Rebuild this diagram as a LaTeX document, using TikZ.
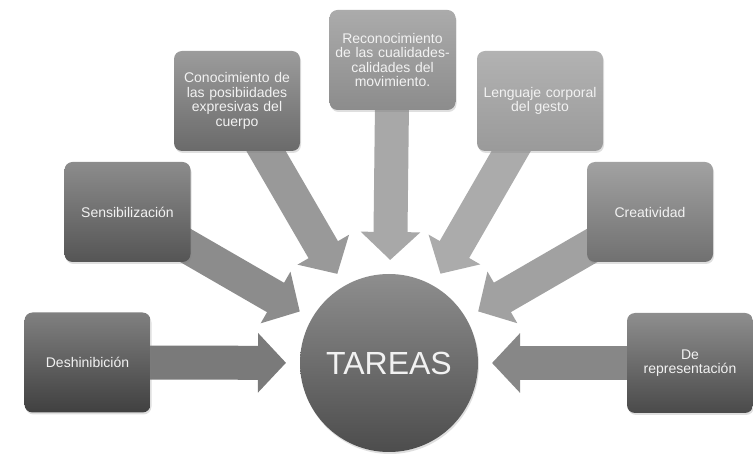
\documentclass[tikz,border=0pt]{standalone}
\usepackage{fontspec}
\setmainfont{Liberation Sans}
\usepackage{xcolor}
\usetikzlibrary{arrows.meta,calc,backgrounds,shadows}

\definecolor{cajaA}{HTML}{808080}
\definecolor{cajaAb}{HTML}{404040}
\definecolor{cajaB}{HTML}{8C8C8C}
\definecolor{cajaBb}{HTML}{555555}
\definecolor{cajaC}{HTML}{9C9C9C}
\definecolor{cajaCb}{HTML}{6A6A6A}
\definecolor{cajaD}{HTML}{ABABAB}
\definecolor{cajaDb}{HTML}{8C8C8C}
\definecolor{cajaE}{HTML}{B2B2B2}
\definecolor{cajaEb}{HTML}{9A9A9A}
\definecolor{cajaF}{HTML}{A2A2A2}
\definecolor{cajaFb}{HTML}{707070}
\definecolor{cajaG}{HTML}{8E8E8E}
\definecolor{cajaGb}{HTML}{4A4A4A}

\begin{document}
\begin{tikzpicture}[x=1pt,y=-1pt,
    tarea/.style 2 args={rounded corners=8pt,minimum width=126pt,minimum height=100pt,
        inner sep=2pt,text width=120pt,align=center,text=white!95!black,
        font=\fontsize{14}{14.5}\selectfont,top color=#1,bottom color=#2,
        drop shadow={opacity=0.25,shadow xshift=1pt,shadow yshift=-2pt}},
    flecha/.style={draw=#1,line width=34pt,-{Triangle[width=58pt,length=28pt]}}]
    \useasboundingbox (0,0) rectangle (753,454);

    \node[circle,minimum size=178pt,top color=cajaG,bottom color=black!70,
        text=white!95!black,font=\fontsize{32}{34}\selectfont,
        drop shadow={opacity=0.25,shadow xshift=1pt,shadow yshift=-2pt}] (tareas) at (389,363) {TAREAS};

    \node[tarea={cajaA}{cajaAb}] (deshin) at (87.5,362.5) {Deshinibición};
    \node[tarea={cajaB}{cajaBb}] (sensib) at (127.5,212) {Sensibilización};
    \node[tarea={cajaC}{cajaCb}] (conoc) at (237,101) {Conocimiento de\\las posibiidades\\expresivas del\\cuerpo};
    \node[tarea={cajaD}{cajaDb}] (recon) at (392.5,60) {Reconocimiento\\de las cualidades-\\calidades del\\movimiento.};
    \node[tarea={cajaE}{cajaEb}] (lengu) at (540,101) {Lenguaje corporal\\del gesto};
    \node[tarea={cajaF}{cajaFb}] (creat) at (650,212) {Creatividad};
    \node[tarea={cajaG}{cajaGb}] (repres) at (690,363) {De\\representación};

    \begin{pgfonlayer}{background}
        \draw[flecha=black!52] (deshin.center) -- ($(tareas.center)!103pt!(deshin.center)$);
        \draw[flecha=black!45] (sensib.center) -- ($(tareas.center)!103pt!(sensib.center)$);
        \draw[flecha=black!40] (conoc.center) -- ($(tareas.center)!103pt!(conoc.center)$);
        \draw[flecha=black!34] (recon.center) -- ($(tareas.center)!103pt!(recon.center)$);
        \draw[flecha=black!33] (lengu.center) -- ($(tareas.center)!103pt!(lengu.center)$);
        \draw[flecha=black!37] (creat.center) -- ($(tareas.center)!103pt!(creat.center)$);
        \draw[flecha=black!47] (repres.center) -- ($(tareas.center)!103pt!(repres.center)$);
    \end{pgfonlayer}
\end{tikzpicture}
\end{document}
